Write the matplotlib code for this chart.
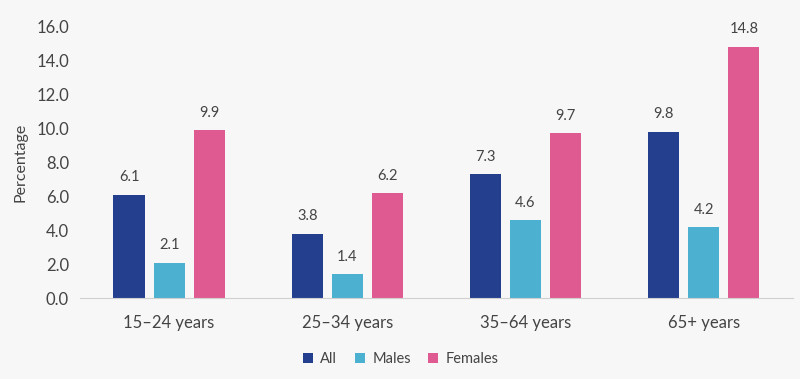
import numpy as np
import matplotlib.pyplot as plt

groups = ['15–24 years', '25–34 years', '35–64 years', '65+ years']
series = ['All', 'Males', 'Females']
all_vals = [6.1, 3.8, 7.3, 9.8]
male_vals = [2.1, 1.4, 4.6, 4.2]
female_vals = [9.9, 6.2, 9.7, 14.8]
colors = ['#233f8e', '#4cb0d0', '#df5a91']

plt.rcParams['font.family'] = ['Lato', 'DejaVu Sans']
txt = '#444444'
bg = '#f7f7f7'

fig = plt.figure(figsize=(8, 3.79), dpi=100, facecolor=bg)
ax = fig.add_axes([0.1, 0.213, 0.891, 0.718], facecolor=bg)

x = np.arange(len(groups))
w = 0.175
off = 0.225
for i, (vals, name) in enumerate(zip([all_vals, male_vals, female_vals], series)):
    pos = x + (i - 1) * off
    ax.bar(pos, vals, width=w, color=colors[i], label=name, zorder=2)
    for p, v in zip(pos, vals):
        ax.text(p, v + 0.6, f'{v:.1f}', ha='center', va='bottom', fontsize=10.5, color=txt)

ax.set_xlim(-0.5, 3.5)
ax.set_ylim(0, 16)
ax.set_yticks(np.arange(0, 17, 2))
ax.set_yticklabels([f'{t:.1f}' for t in np.arange(0, 17, 2)])
ax.set_xticks(x)
ax.set_xticklabels(groups)
ax.tick_params(axis='both', length=0, labelsize=12, colors=txt)
ax.tick_params(axis='y', pad=8)
ax.tick_params(axis='x', pad=12)
for s in ['top', 'right', 'left']:
    ax.spines[s].set_visible(False)
ax.spines['bottom'].set_color('#d0d0d0')
ax.set_ylabel('Percentage', fontsize=11.5, color=txt, labelpad=6)

ax.legend(loc='upper center', bbox_to_anchor=(0.45, -0.15), ncol=3, frameon=False,
          fontsize=10.5, handlelength=0.7, handleheight=0.7, columnspacing=1.2,
          handletextpad=0.5, labelcolor=txt)

fig.savefig('out.png', dpi=100, facecolor=bg)
